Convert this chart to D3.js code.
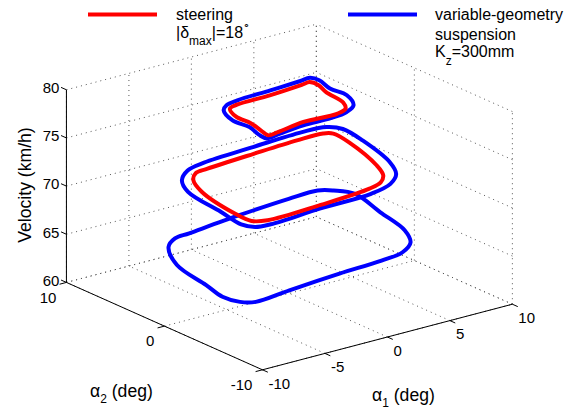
<!DOCTYPE html>
<html>
<head>
<meta charset="utf-8">
<script src="https://cdn.jsdelivr.net/npm/d3@7"></script>
<style>
  body { margin: 0; background: #fff; }
  svg { display: block; }
  text { font-family: "Liberation Sans", Arial, Helvetica, sans-serif; fill: #000; }
</style>
</head>
<body>
<div id="chart"></div>
<script>
// ticks
var a1Ticks = [-10, -5, 0, 5, 10];
var a2Ticks = [-10, 0, 10];
var vTicks = [60, 65, 70, 75, 80];

// loops: [alpha1, alpha2] at a fixed velocity (km/h)
var vgs65 = [[-6.3,4.3],[-7.9,1.4],[-8.7,-2.6],[-9.2,-4.9],[-8.9,-6.3],[-8.1,-6.9],[-5.1,-6.5],[-0.7,-6.0],
             [2.9,-5.7],[4.9,-5.3],[6.4,-4.2],[7.5,-2.2],[8.3,1.3],[9.1,4.9],[8.4,6.2],[7.6,6.8],
             [5.2,6.7],[0.8,6.2],[-3.7,5.5],[-5.0,5.3]];
var vgs72 = [[-5.7,3.7],[-6.7,1.8],[-7.3,-2.3],[-7.7,-4.9],[-7.3,-5.8],[-6.2,-6.0],[-1.9,-5.6],[2.3,-5.4],
             [4.4,-4.7],[5.8,-3.5],[6.8,-1.6],[7.9,2.6],[8.2,5.0],[7.6,5.9],[5.8,6.1],[1.7,5.8],
             [-2.6,5.4],[-4.3,4.9]];
var steer72 = [[-5.1,3.3],[-6.0,1.3],[-6.8,-3.1],[-6.8,-4.8],[-5.9,-5.3],[-1.5,-5.1],[2.8,-4.6],[4.1,-4.1],
               [5.0,-3.2],[5.8,-1.5],[7.0,2.8],[7.2,4.7],[6.7,5.1],[4.6,5.1],[0.9,4.8],[-3.1,4.4],[-4.2,4.2]];
var vgs79 = [[-3.3,2.5],[-4.0,0.7],[-3.9,-0.9],[-4.3,-2.4],[-4.3,-3.2],[-3.1,-3.0],[-1.0,-2.7],[1.2,-2.7],
             [2.7,-2.4],[3.8,-1.7],[4.6,0.0],[4.5,1.6],[4.9,3.2],[4.7,3.9],[3.8,3.8],[1.3,3.6],
             [-1.5,3.4],[-2.6,3.1]];
var steer79 = [[-2.8,2.5],[-3.4,1.1],[-3.4,-0.4],[-3.7,-1.8],[-3.9,-2.8],[-3.0,-2.7],[-0.6,-2.2],[2.0,-2.3],
               [3.0,-1.9],[3.6,-0.9],[3.9,1.2],[4.3,2.5],[4.2,3.3],[3.5,3.2],[0.7,2.9],[-2.0,2.8]];

var width = 567, height = 410;

var svg = d3.select("#chart")
  .append("svg")
    .attr("width", width)
    .attr("height", height);

// view like matlab view(-37.5, 20), orthographic
var az = -37.5 * Math.PI / 180,
    el = 20 * Math.PI / 180;
var x3 = d3.scaleLinear().domain([-10, 10]).range([-157.5, 157.5]);
var y3 = d3.scaleLinear().domain([-10, 10]).range([-161, 161]);
var z3 = d3.scaleLinear().domain([60, 80]).range([-102.5, 102.5]);
var cx = 289.4, cy = 197;

function proj(a1, a2, v) {
  var X = x3(a1), Y = y3(a2), Z = z3(v);
  return [cx + X * Math.cos(az) + Y * Math.sin(az),
          cy - (-X * Math.sin(az) * Math.sin(el) + Y * Math.cos(az) * Math.sin(el) + Z * Math.cos(el))];
}

function seg(g, p, q) {
  g.append("line")
    .attr("x1", p[0]).attr("y1", p[1])
    .attr("x2", q[0]).attr("y2", q[1]);
}

// grid on the three back planes
var grid = svg.append("g")
  .attr("stroke", "#555")
  .attr("stroke-width", 1)
  .attr("stroke-dasharray", "1,4");

a1Ticks.forEach(function(t) {
  seg(grid, proj(t, -10, 60), proj(t, 10, 60));
  seg(grid, proj(t, 10, 60), proj(t, 10, 80));
});
a2Ticks.forEach(function(t) {
  seg(grid, proj(-10, t, 60), proj(10, t, 60));
  seg(grid, proj(10, t, 60), proj(10, t, 80));
});
vTicks.forEach(function(v) {
  seg(grid, proj(-10, 10, v), proj(10, 10, v));
  seg(grid, proj(10, -10, v), proj(10, 10, v));
});

// axes
var axes = svg.append("g").attr("stroke", "#000").attr("stroke-width", 1);
seg(axes, proj(-10, 10, 60), proj(-10, 10, 80));
seg(axes, proj(-10, -10, 60), proj(-10, 10, 60));
seg(axes, proj(-10, -10, 60), proj(10, -10, 60));

vTicks.forEach(function(v) {
  seg(axes, proj(-10, 10, v), proj(-10, 10.55, v));
  var p = proj(-10, 10, v);
  svg.append("text")
    .attr("x", p[0] - 7).attr("y", p[1] - 2)
    .attr("dy", "0.35em")
    .style("font-size", "15px")
    .style("text-anchor", "end")
    .text(v);
});
a2Ticks.forEach(function(t) {
  seg(axes, proj(-10, t, 60), proj(-10.55, t, 60));
  var p = proj(-10, t, 60);
  svg.append("text")
    .attr("x", p[0] - 10).attr("y", p[1] + 15)
    .attr("dy", "0.35em")
    .style("font-size", "15px")
    .style("text-anchor", "end")
    .text(t);
});
a1Ticks.forEach(function(t) {
  seg(axes, proj(t, -10, 60), proj(t, -10.55, 60));
  var p = proj(t, -10, 60);
  svg.append("text")
    .attr("x", p[0] + 6).attr("y", p[1] + 13.5)
    .attr("dy", "0.35em")
    .style("font-size", "15px")
    .style("text-anchor", "start")
    .text(t);
});

// loops
var loop = d3.line().curve(d3.curveCatmullRomClosed.alpha(0.5));
var series = [
  {pts: vgs65, v: 65, color: "#0000ff"},
  {pts: vgs72, v: 72, color: "#0000ff"},
  {pts: steer72, v: 72, color: "#ff0000"},
  {pts: vgs79, v: 79, color: "#0000ff"},
  {pts: steer79, v: 79, color: "#ff0000"}
];
svg.selectAll("path.loop")
  .data(series)
  .enter()
  .append("path")
    .attr("class", "loop")
    .attr("fill", "none")
    .attr("stroke", function(d) { return d.color; })
    .attr("stroke-width", 4)
    .attr("stroke-linejoin", "round")
    .attr("d", function(d) {
      return loop(d.pts.map(function(p) { return proj(p[0], p[1], d.v); }));
    });

// axis labels
svg.append("text")
  .attr("transform", "translate(31,185) rotate(-90)")
  .style("font-size", "17.6px")
  .style("text-anchor", "middle")
  .text("Velocity (km/h)");

var lab2 = svg.append("text").attr("x", 90).attr("y", 397).style("font-size", "17.6px");
lab2.append("tspan").text("\u03b1");
lab2.append("tspan").attr("dy", 6).style("font-size", "12px").text("2");
lab2.append("tspan").attr("dy", -6).text(" (deg)");

var lab1 = svg.append("text").attr("x", 372).attr("y", 401).style("font-size", "17.6px");
lab1.append("tspan").text("\u03b1");
lab1.append("tspan").attr("dy", 6).style("font-size", "12px").text("1");
lab1.append("tspan").attr("dy", -6).text(" (deg)");

// legend
var leg = svg.append("g");
leg.append("line").attr("x1", 88).attr("x2", 157).attr("y1", 14.5).attr("y2", 14.5)
  .attr("stroke", "#ff0000").attr("stroke-width", 4);
leg.append("line").attr("x1", 348).attr("x2", 417).attr("y1", 14.5).attr("y2", 14.5)
  .attr("stroke", "#0000ff").attr("stroke-width", 4);

leg.append("text").attr("x", 176).attr("y", 20).style("font-size", "16px").text("steering");
var t2 = leg.append("text").attr("x", 176).attr("y", 38).style("font-size", "16px");
t2.append("tspan").text("|\u03b4");
t2.append("tspan").attr("dy", 7).style("font-size", "12px").text("max");
t2.append("tspan").attr("dy", -7).text("|=18");
t2.append("tspan").attr("dy", -9).style("font-size", "11px").text("\u2218");

leg.append("text").attr("x", 435).attr("y", 20).style("font-size", "16px").text("variable-geometry");
leg.append("text").attr("x", 435).attr("y", 40).style("font-size", "16px").text("suspension");
var t3 = leg.append("text").attr("x", 435).attr("y", 57).style("font-size", "16px");
t3.append("tspan").text("K");
t3.append("tspan").attr("dy", 8).style("font-size", "12px").text("z");
t3.append("tspan").attr("dy", -8).text("=300mm");
</script>
</body>
</html>
